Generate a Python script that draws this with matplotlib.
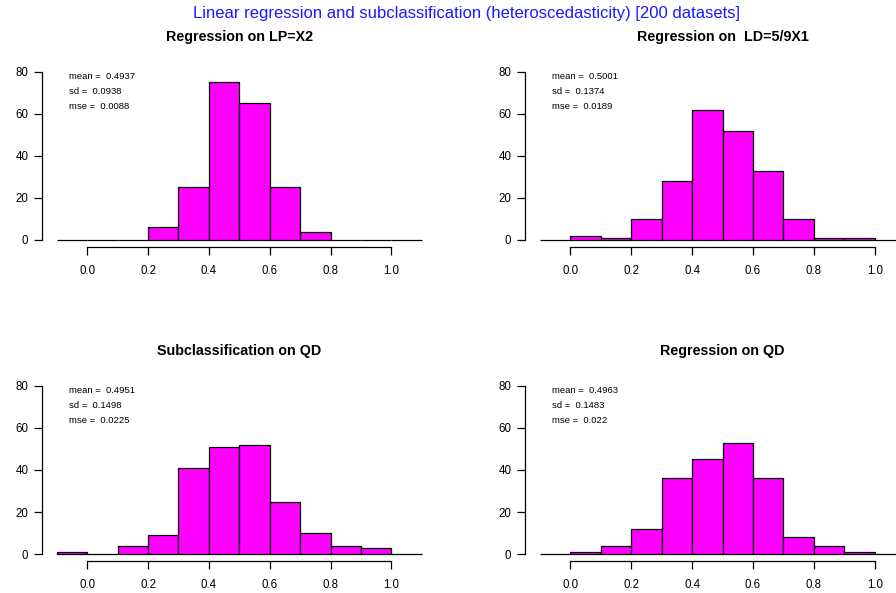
import matplotlib
matplotlib.use("Agg")
import matplotlib.pyplot as plt
import numpy as np

plt.rcParams["font.family"] = ["Liberation Sans", "DejaVu Sans"]

# ---------------------------------------------------------------------------
# data: histogram counts over 12 bins of width 0.1 from -0.1 to 1.1
# ---------------------------------------------------------------------------
bin_edges = [-0.1, 0.0, 0.1, 0.2, 0.3, 0.4, 0.5, 0.6, 0.7, 0.8, 0.9, 1.0, 1.1]

counts_lp = [0, 0, 0, 6, 25, 75, 65, 25, 4, 0, 0, 0]
counts_ld = [0, 2, 1, 10, 28, 62, 52, 33, 10, 1, 1, 0]
counts_subqd = [1, 0, 4, 9, 41, 51, 52, 25, 10, 4, 3, 0]
counts_regqd = [0, 1, 4, 12, 36, 45, 53, 36, 8, 4, 1, 0]

titles = ["Regression on LP=X2", "Regression on  LD=5/9X1",
          "Subclassification on QD", "Regression on QD"]
means = ["0.4937", "0.5001", "0.4951", "0.4963"]
sds = ["0.0938", "0.1374", "0.1498", "0.1483"]
mses = ["0.0088", "0.0189", "0.0225", "0.022"]

x_ticks = [0.0, 0.2, 0.4, 0.6, 0.8, 1.0]
y_ticks = [0, 20, 40, 60, 80]

suptitle = "Linear regression and subclassification (heteroscedasticity) [200 datasets]"

# ---------------------------------------------------------------------------
W, H = 896, 593
fig = plt.figure(figsize=(W / 100, H / 100), dpi=100)

# panel boxes in pixels: (left, top, right, bottom)
boxes = [(42.3, 65.0, 436.3, 246.7),
         (525.3, 65.0, 919.8, 246.7),
         (42.3, 379.0, 436.3, 561.0),
         (525.3, 379.0, 919.8, 561.0)]

all_counts = [counts_lp, counts_ld, counts_subqd, counts_regqd]
edges = np.array(bin_edges)
widths = np.diff(edges)

for i, (l, t, r, b) in enumerate(boxes):
    ax = fig.add_axes([l / W, 1 - b / H, (r - l) / W, (b - t) / H])
    ax.bar(edges[:-1], all_counts[i], width=widths, align="edge",
           color="#FF00FF", edgecolor="black", linewidth=0.9)
    ax.set_xlim(-0.148, 1.148)
    ax.set_ylim(-3.2, 83.2)
    ax.set_xticks(x_ticks)
    ax.set_xticklabels([f"{v:.1f}" for v in x_ticks])
    ax.set_yticks(y_ticks)
    for s in ["top", "right"]:
        ax.spines[s].set_visible(False)
    ax.spines["left"].set_bounds(0, 80)
    ax.spines["bottom"].set_bounds(0, 1)
    ax.spines["left"].set_linewidth(0.9)
    ax.spines["bottom"].set_linewidth(0.9)
    ax.tick_params(axis="both", length=6, width=0.9, labelsize=8.3, colors="black")
    ax.tick_params(axis="x", pad=7)
    ax.tick_params(axis="y", pad=4)
    ax.patch.set_visible(False)

    ax.set_title(titles[i], fontsize=10.3, fontweight="bold", pad=17)

    ax.text(-0.06, 77.6, f"mean =  {means[i]}", fontsize=6.8, va="center", ha="left")
    ax.text(-0.06, 70.5, f"sd =  {sds[i]}", fontsize=6.8, va="center", ha="left")
    ax.text(-0.06, 63.4, f"mse =  {mses[i]}", fontsize=6.8, va="center", ha="left")

fig.text(466.5 / W, 1 - 13.5 / H, suptitle, color="#1a1aff", fontsize=12,
         ha="center", va="center")

fig.savefig("out.png", dpi=100)
